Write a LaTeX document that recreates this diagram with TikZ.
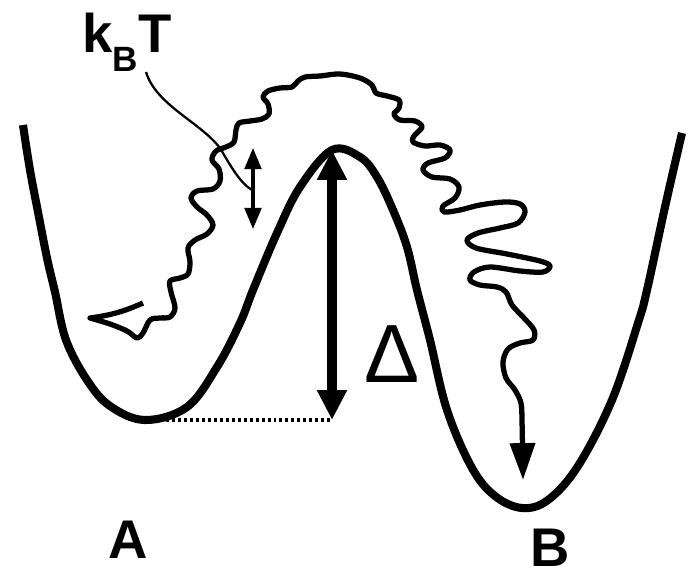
\documentclass[tikz,border=0pt]{standalone}
\usepackage{fontspec}
\setmainfont{Liberation Sans}
\usepackage{tikz}
\usetikzlibrary{arrows.meta}

\begin{document}
\begin{tikzpicture}[
    x=0.02cm, y=-0.02cm,
    well/.style={line width=4.6pt},
    traj/.style={line width=3pt, line join=round, -{Triangle[length=21pt, width=14pt]}},
    pointer/.style={line width=1.3pt},
    kick/.style={line width=1.8pt, {Triangle[length=12pt, width=9.5pt]}-{Triangle[length=12pt, width=9.5pt]}},
    barrier/.style={line width=5.5pt, {Triangle[length=17pt, width=16pt]}-{Triangle[length=17pt, width=16pt]}},
    level/.style={line width=2pt, dash pattern=on 1.7pt off 1.7pt},
    lbl/.style={inner sep=0pt, anchor=base, font=\bfseries\fontsize{31}{31}\selectfont},
]
\useasboundingbox (0,0) rectangle (690,575);

% double well
\draw[well] plot[smooth, tension=0.6] coordinates {(23,125) (30,170) (38,212) (47,258) (55,292) (66,340)
    (87,380) (110,406) (145,420) (187,407) (217,367) (240,323) (253,290) (277,233) (300,187) (332,150)
    (360,157) (377,177) (393,210) (407,247) (417,290) (430,340) (447,410) (472,468) (495,496) (522,508)
    (548,500) (578,466) (612,400) (638,323) (647,290) (665,207) (682,133)};

\coordinate (minA) at (160,420);
\coordinate (peak) at (332,150);
\coordinate (foot) at (332,420);

\draw[level] (minA) -- (foot);
\draw[barrier] (peak) -- (foot);

% thermal path from A to B
\coordinate (start) at (143,303);
\coordinate (cusp) at (90,318);
\draw[traj] (start) to[bend left=8] (cusp) -- plot[smooth, tension=0.55] coordinates {(90,318) (110,324) (127,331)
    (137,338) (143,333) (150,320) (160,318) (170,317) (175,308) (171,292) (170,281) (180,278) (188,274)
    (190,262) (188,248) (195,240) (207,234) (213,225) (207,215) (197,207) (191,198) (197,191) (213,189)
    (220,181) (219,169) (212,160) (216,151) (226,147) (234,142) (236,130) (239,123) (250,121) (262,119)
    (269,114) (268,104) (263,97) (268,91) (280,88) (292,87) (298,81) (305,77) (320,76) (340,74) (360,78)
    (372,85) (376,93) (387,96) (399,100) (399,108) (394,114) (400,120) (415,121) (422,127) (414,136)
    (413,142) (425,146) (440,145) (450,150) (445,158) (428,163) (423,170) (432,177) (450,179) (459,187)
    (455,198) (443,206) (444,212) (460,210) (480,205) (505,202) (520,204) (525,212) (518,223) (500,228)
    (478,233) (467,240) (476,248) (507,254) (540,261) (550,266) (543,272) (520,271) (490,267) (474,272)
    (470,280) (480,285) (497,287) (506,292) (512,305) (524,318) (534,330) (533,340) (520,343) (508,349)
    (503,362) (506,378) (515,390) (521,403) (522,420) (523,480)};

% thermal kick
\node[lbl, anchor=base west] (kbt) at (82,52)
    {k\raisebox{-11pt}{\fontsize{20}{20}\selectfont B}T};
\coordinate (tail) at (146,72);
\coordinate (hit) at (220,148);
\coordinate (kup) at (253,148);
\coordinate (kdown) at (253,229);
\coordinate (kmid) at (252,190);
\draw[pointer] (tail) .. controls (156,105) and (200,122) .. (hit)
    .. controls (230,165) and (240,183) .. (kmid);
\draw[kick] (kup) -- (kdown);

\node[lbl, font=\fontsize{47}{47}\selectfont] (delta) at (392,382) {Δ};
\node[lbl] (A) at (128,558) {A};
\node[lbl] (B) at (550,566) {B};
\end{tikzpicture}
\end{document}
